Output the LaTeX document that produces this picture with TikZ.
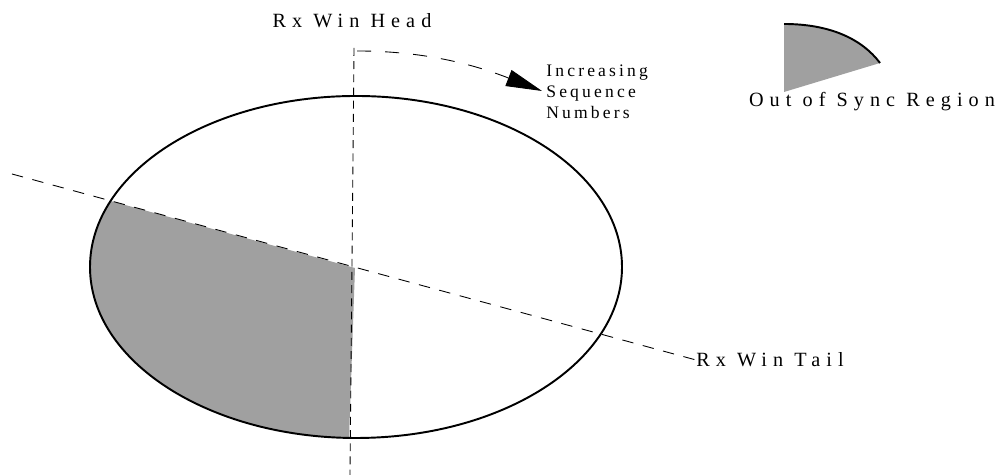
\documentclass[tikz,border=0pt]{standalone}
\usepackage{fontspec}
\setmainfont{Liberation Serif}
\newfontfamily\wideserif[LetterSpace=30]{Liberation Serif}
\newfontfamily\noteserif[LetterSpace=18]{Liberation Serif}
\usetikzlibrary{arrows.meta}
\definecolor{syncgray}{RGB}{160,160,160}

\begin{document}
\begin{tikzpicture}[x=0.02cm, y=0.02cm,
  rim/.style={draw, line width=1.1pt},
  region/.style={fill=syncgray},
  guide/.style={draw, line width=0.5pt, dash pattern=on 6.5pt off 5.5pt},
  headline/.style={draw, line width=0.5pt, dash pattern=on 4.5pt off 3pt},
  sweep/.style={draw, line width=0.5pt, dash pattern=on 8pt off 8pt, -{Triangle[length=0.72cm, width=0.34cm]}},
  lbl/.style={font=\wideserif\fontsize{11.5}{13}\selectfont, inner sep=0pt},
  note/.style={font=\noteserif\fontsize{10}{11.9}\selectfont, inner sep=0pt, align=left}]
\useasboundingbox (0,0) rectangle (1000,475);
\coordinate (c) at (356,208);
\coordinate (v) at (355,207);
\coordinate (tl) at (12,301);
\coordinate (ht) at (354,427);
\coordinate (hb) at (350,0);
\coordinate (as) at (357,424);
\coordinate (ae) at (542,384);
\path (c) ++(157.3:266 and 171) coordinate (p1);
\node[lbl] (head) at (352,454) {Rx Win Head};
\node[lbl, anchor=west] (tail) at (696,115) {Rx Win Tail};
\node[note, anchor=west] (seq) at (546,383) {Increasing\\Sequence\\Numbers};
\node[lbl] (key) at (872,373) {Out of Sync Region};
% out of sync part of the window
\fill[region] (v) -- (p1) arc[start angle=157.3, end angle=268.5, x radius=266, y radius=171] -- cycle;
\draw[rim] (c) ellipse[x radius=266, y radius=171];
\draw[guide] (tl) -- (tail.west);
\draw[headline] (ht) -- (hb);
\draw[sweep] (as) .. controls (430,424) and (480,408) .. (ae);
% legend
\coordinate (k1) at (784,383);
\coordinate (k2) at (784,451);
\coordinate (k3) at (880,412);
\fill[region] (k1) -- (k2) .. controls (830,451) and (862,436) .. (k3) -- cycle;
\draw[rim] (k2) .. controls (830,451) and (862,436) .. (k3);
\end{tikzpicture}
\end{document}
